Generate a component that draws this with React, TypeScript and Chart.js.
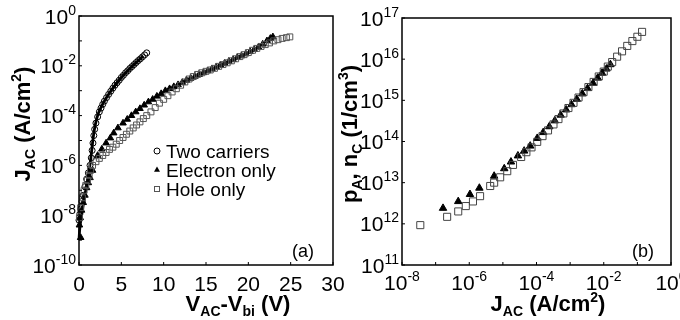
import React, { useEffect, useRef } from "react";
import { Chart, registerables } from "chart.js";
Chart.register(...registerables);

const FONT = '"Liberation Sans", Arial, Helvetica, sans-serif';

// ---------- Panel (a): J_AC vs V_AC - V_bi ----------
const twoCarrierV = [0.0, 0.1, 0.2, 0.35, 0.5, 0.7, 0.9, 1.1, 1.3, 1.45, 1.55, 1.65, 1.75, 1.85, 2.0, 2.2, 2.4, 2.6, 2.8, 3.0, 3.25, 3.5, 3.75, 4.0, 4.25, 4.5, 4.75, 5.0, 5.25, 5.5, 5.75, 6.0, 6.25, 6.5, 6.75, 7.0, 7.25, 7.5, 7.75, 8.0];
const twoCarrierJ = [6.3e-9, 1.12e-8, 1.78e-8, 3.55e-8, 6.3e-8, 1.41e-7, 2.82e-7, 5.0e-7, 1.0e-6, 2.0e-6, 4.0e-6, 7.9e-6, 1.58e-5, 2.82e-5, 5.0e-5, 8.9e-5, 1.41e-4, 2.0e-4, 2.82e-4, 3.8e-4, 5.25e-4, 7.1e-4, 9.5e-4, 1.26e-3, 1.66e-3, 2.09e-3, 2.63e-3, 3.39e-3, 4.17e-3, 5.25e-3, 6.3e-3, 7.8e-3, 9.3e-3, 1.12e-2, 1.35e-2, 1.62e-2, 1.91e-2, 2.29e-2, 2.75e-2, 3.31e-2];

const fitV = [0, 0.1, 0.3, 0.6, 0.9, 1.2, 1.4, 1.6, 1.8, 2.0, 2.3, 2.7, 3.2, 4.0, 5.0, 6.0, 7.0, 7.6];
const fitJ = [1.0e-9, 3.2e-9, 1.0e-8, 4.0e-8, 1.58e-7, 6.3e-7, 2.0e-6, 7.9e-6, 2.5e-5, 5.6e-5, 1.26e-4, 2.5e-4, 5.0e-4, 1.26e-3, 3.39e-3, 7.8e-3, 1.62e-2, 2.5e-2];

const electronV = [0.2, 0.05, 0.15, 0.3, 0.5, 0.7, 0.9, 1.1, 1.3, 1.6, 2.2, 2.7, 3.2, 3.7, 4.1, 4.6, 5.2, 5.7, 6.2, 6.7, 7.2, 7.7, 8.2, 8.7, 9.2, 9.7, 10.2, 10.7, 11.2, 11.7, 12.2, 12.7, 13.2, 13.7, 14.2, 14.7, 15.2, 15.7, 16.2, 16.7, 17.2, 17.7, 18.2, 18.7, 19.2, 19.7, 20.2, 20.7, 21.2, 21.7, 22.2, 22.6, 22.9];
const electronJ = [1.26e-9, 4.0e-9, 7.9e-9, 1.58e-8, 3.2e-8, 6.3e-8, 1.26e-7, 2.0e-7, 3.2e-7, 6.3e-7, 2.5e-6, 4.5e-6, 7.9e-6, 1.26e-5, 2.0e-5, 3.2e-5, 5.0e-5, 7.1e-5, 1.0e-4, 1.41e-4, 1.91e-4, 2.63e-4, 3.55e-4, 4.5e-4, 6.0e-4, 7.6e-4, 1.0e-3, 1.2e-3, 1.45e-3, 1.74e-3, 2.14e-3, 2.63e-3, 3.16e-3, 3.8e-3, 4.5e-3, 5.25e-3, 6.3e-3, 7.6e-3, 8.9e-3, 1.07e-2, 1.26e-2, 1.51e-2, 1.78e-2, 2.14e-2, 2.5e-2, 3.0e-2, 3.7e-2, 4.5e-2, 5.6e-2, 7.4e-2, 1.0e-1, 1.26e-1, 1.45e-1];

const holeV = [0.05, 0.2, 0.4, 0.6, 0.8, 1.0, 1.2, 1.35, 1.6, 2.0, 2.4, 2.8, 3.2, 3.6, 4.0, 4.4, 4.8, 5.2, 5.6, 6.0, 6.4, 6.8, 7.2, 7.6, 8.0, 8.5, 9.0, 9.5, 10.0, 10.5, 11.0, 11.5, 12.0, 12.5, 13.0, 13.5, 14.0, 14.5, 15.0, 15.5, 16.0, 16.5, 17.0, 17.5, 18.0, 18.5, 19.0, 19.5, 20.0, 20.5, 21.0, 21.5, 22.0, 22.5, 23.0, 23.5, 24.0, 24.5, 24.9];
const holeJ = [7.9e-9, 2.0e-8, 5.0e-8, 1.0e-7, 1.58e-7, 2.5e-7, 4.0e-7, 6.3e-7, 1.0e-6, 1.41e-6, 1.91e-6, 2.5e-6, 3.3e-6, 4.4e-6, 5.4e-6, 7.1e-6, 1.0e-5, 1.32e-5, 1.78e-5, 2.4e-5, 3.2e-5, 4.2e-5, 5.6e-5, 7.6e-5, 1.0e-4, 1.41e-4, 2.1e-4, 3.16e-4, 4.5e-4, 6.3e-4, 8.9e-4, 1.2e-3, 1.66e-3, 2.24e-3, 2.95e-3, 3.7e-3, 4.5e-3, 5.25e-3, 6.0e-3, 6.8e-3, 7.9e-3, 9.5e-3, 1.12e-2, 1.32e-2, 1.58e-2, 1.91e-2, 2.34e-2, 2.8e-2, 3.4e-2, 4.2e-2, 5.0e-2, 6.0e-2, 7.1e-2, 8.3e-2, 1.0e-1, 1.12e-1, 1.26e-1, 1.35e-1, 1.45e-1];

const xTicksA = [0, 5, 10, 15, 20, 25, 30];
const yTickExpA = [0, -2, -4, -6, -8, -10];
const yMinorExpA = [-1, -3, -5, -7, -9];
const legendLabels = ["Two carriers", "Electron only", "Hole only"];

// ---------- Panel (b): p_A, n_C vs J_AC ----------
const holeBJ = [3.5e-8, 2.2e-7, 4.7e-7, 7.9e-7, 1.29e-6, 2.1e-6, 4.2e-6, 5.5e-6, 8.3e-6, 1.35e-5, 2.0e-5, 3.5e-5, 5.0e-5, 7.1e-5, 1.05e-4, 1.51e-4, 2.2e-4, 3.2e-4, 4.5e-4, 6.3e-4, 8.9e-4, 1.26e-3, 1.78e-3, 2.5e-3, 3.5e-3, 5.0e-3, 7.1e-3, 1.0e-2, 1.32e-2, 1.78e-2, 2.5e-2, 3.5e-2, 5.0e-2, 7.1e-2, 1.0e-1, 1.38e-1];
const holeBN = [9.3e11, 1.48e12, 2.0e12, 2.7e12, 3.5e12, 4.7e12, 8.3e12, 1.0e13, 1.35e13, 1.9e13, 2.7e13, 4.2e13, 5.5e13, 7.2e13, 9.8e13, 1.35e14, 1.86e14, 2.6e14, 3.5e14, 4.8e14, 6.5e14, 8.7e14, 1.17e15, 1.58e15, 2.1e15, 2.8e15, 3.8e15, 5.0e15, 6.6e15, 8.5e15, 1.15e16, 1.55e16, 2.1e16, 2.75e16, 3.5e16, 4.6e16];

const electronBJ = [1.66e-7, 4.7e-7, 1.05e-6, 2.0e-6, 5.5e-6, 1.1e-5, 1.74e-5, 2.8e-5, 4.3e-5, 6.5e-5, 1.05e-4, 1.58e-4, 2.4e-4, 3.5e-4, 5.2e-4, 7.6e-4, 1.1e-3, 1.58e-3, 2.3e-3, 3.3e-3, 4.8e-3, 6.6e-3, 8.9e-3, 1.2e-2, 1.58e-2];
const electronBN = [2.4e12, 3.5e12, 5.2e12, 7.4e12, 1.45e13, 2.2e13, 3.2e13, 4.5e13, 5.9e13, 7.8e13, 1.2e14, 1.66e14, 2.3e14, 3.2e14, 4.4e14, 5.9e14, 7.9e14, 1.07e15, 1.45e15, 1.95e15, 2.6e15, 3.5e15, 4.6e15, 5.8e15, 7.4e15];

const xTickExpB = [-8, -6, -4, -2, 0];
const xMinorExpB = [-7, -5, -3, -1];
const yTickExpB = [11, 12, 13, 14, 15, 16, 17];

// ---------- text helpers ----------
type Seg = { t: string; s: number; dy?: number; b?: boolean };
const segFont = (g: Seg) => `${g.b ? "bold " : ""}${g.s}px ${FONT}`;
function drawRich(ctx: CanvasRenderingContext2D, x: number, y: number, segs: Seg[], align: "left" | "center" | "right") {
  let w = 0;
  for (const g of segs) { ctx.font = segFont(g); w += ctx.measureText(g.t).width; }
  let cx = align === "left" ? x : align === "right" ? x - w : x - w / 2;
  ctx.textAlign = "left";
  ctx.textBaseline = "alphabetic";
  for (const g of segs) {
    ctx.font = segFont(g);
    ctx.fillText(g.t, cx, y + (g.dy || 0));
    cx += ctx.measureText(g.t).width;
  }
}
const TK = 21, SUP = 14;
const pow10 = (e: number): Seg[] => [{ t: "10", s: TK }, { t: String(e), s: SUP, dy: -9 }];
const T = 22, S = 14;
const jacTitle: Seg[] = [
  { t: "J", s: T, b: true }, { t: "AC", s: S, b: true, dy: 5 },
  { t: " (A/cm", s: T, b: true }, { t: "2", s: S, b: true, dy: -9 }, { t: ")", s: T, b: true },
];

function frameAndTicks(chart: any, xTicks: number[], yTicks: number[]) {
  const { ctx, chartArea: ca, scales } = chart;
  ctx.strokeStyle = "#000";
  ctx.lineWidth = 1;
  ctx.beginPath();
  for (const v of xTicks) { const px = scales.x.getPixelForValue(v); ctx.moveTo(px, ca.bottom); ctx.lineTo(px, ca.bottom - 3); }
  for (const v of yTicks) { const py = scales.y.getPixelForValue(v); ctx.moveTo(ca.left, py); ctx.lineTo(ca.left + 3, py); }
  ctx.stroke();
  ctx.lineWidth = 1.5;
  ctx.strokeRect(ca.left, ca.top, ca.right - ca.left, ca.bottom - ca.top);
}

const decorA = {
  id: "decorA",
  afterDraw(chart: any) {
    const { ctx, chartArea: ca, scales } = chart;
    ctx.save();
    frameAndTicks(chart, xTicksA, [...yTickExpA, ...yMinorExpA].map((e) => Math.pow(10, e)));
    ctx.fillStyle = "#000";
    for (const v of xTicksA) drawRich(ctx, scales.x.getPixelForValue(v), 291, [{ t: String(v), s: TK }], "center");
    for (const e of yTickExpA) drawRich(ctx, ca.left - 3, scales.y.getPixelForValue(Math.pow(10, e)) + 7.5, pow10(e), "right");
    drawRich(ctx, 238, 311, [
      { t: "V", s: T, b: true }, { t: "AC", s: S, b: true, dy: 5 },
      { t: "-V", s: T, b: true }, { t: "bi", s: S, b: true, dy: 5 }, { t: " (V)", s: T, b: true },
    ], "center");
    ctx.save();
    ctx.translate(30, 124);
    ctx.rotate(-Math.PI / 2);
    drawRich(ctx, 0, 0, jacTitle, "center");
    ctx.restore();
    drawRich(ctx, 314, 257, [{ t: "(a)", s: 18 }], "right");
    // legend
    const lx = 157, rows = [151, 170, 189];
    ctx.lineWidth = 1;
    ctx.strokeStyle = "#000";
    ctx.beginPath(); ctx.arc(lx, rows[0], 3, 0, Math.PI * 2); ctx.stroke();
    ctx.beginPath();
    ctx.moveTo(lx, rows[1] - 3.5); ctx.lineTo(lx + 3, rows[1] + 1.8); ctx.lineTo(lx - 3, rows[1] + 1.8); ctx.closePath();
    ctx.fill();
    ctx.strokeStyle = "#555";
    ctx.strokeRect(lx - 2.5, rows[2] - 2.5, 5, 5);
    legendLabels.forEach((l, i) => drawRich(ctx, 166, rows[i] + 7, [{ t: l, s: 19 }], "left"));
    ctx.restore();
  },
};

const decorB = {
  id: "decorB",
  afterDraw(chart: any) {
    const { ctx, chartArea: ca, scales } = chart;
    ctx.save();
    frameAndTicks(chart, [...xTickExpB, ...xMinorExpB].map((e) => Math.pow(10, e)), yTickExpB.map((e) => Math.pow(10, e)));
    ctx.fillStyle = "#000";
    for (const e of xTickExpB) drawRich(ctx, scales.x.getPixelForValue(Math.pow(10, e)), 290, pow10(e), "center");
    for (const e of yTickExpB) drawRich(ctx, ca.left - 3, scales.y.getPixelForValue(Math.pow(10, e)) + 7.5, pow10(e), "right");
    drawRich(ctx, 548, 311, jacTitle, "center");
    ctx.save();
    ctx.translate(357, 134);
    ctx.rotate(-Math.PI / 2);
    drawRich(ctx, 0, 0, [
      { t: "p", s: T, b: true }, { t: "A", s: S, b: true, dy: 5 },
      { t: ", n", s: T, b: true }, { t: "C", s: S, b: true, dy: 5 },
      { t: " (1/cm", s: T, b: true }, { t: "3", s: S, b: true, dy: -9 }, { t: ")", s: T, b: true },
    ], "center");
    ctx.restore();
    drawRich(ctx, 654, 257, [{ t: "(b)", s: 18 }], "right");
    ctx.restore();
  },
};

const zip = (xs: number[], ys: number[]) => xs.map((x, i) => ({ x, y: ys[i] }));

export default function App() {
  const refA = useRef<HTMLCanvasElement>(null);
  const refB = useRef<HTMLCanvasElement>(null);

  useEffect(() => {
    const common: any = {
      responsive: false,
      animation: false,
      devicePixelRatio: 1,
      plugins: { legend: { display: false }, tooltip: { enabled: false } },
      events: [],
    };
    const chartA = new Chart(refA.current!, {
      type: "scatter",
      data: {
        datasets: [
          { label: "Hole only", data: zip(holeV, holeJ), pointStyle: "rect", pointRadius: 4.2, borderColor: "#555", backgroundColor: "rgba(0,0,0,0)", borderWidth: 1, clip: false } as any,
          { label: "Electron only", data: zip(electronV, electronJ), pointStyle: "triangle", pointRadius: 3.8, borderColor: "#000", backgroundColor: "#000", borderWidth: 1, clip: false } as any,
          { label: "Two carriers", data: zip(twoCarrierV, twoCarrierJ), pointStyle: "circle", pointRadius: 3, borderColor: "#000", backgroundColor: "rgba(0,0,0,0)", borderWidth: 1, clip: false } as any,
          { label: "fit", data: zip(fitV, fitJ), showLine: true, pointRadius: 0, borderColor: "#000", borderWidth: 2.8, tension: 0.3, clip: false } as any,
        ],
      },
      options: {
        ...common,
        layout: { padding: { left: 79, right: 347, top: 16, bottom: 55 } },
        scales: {
          x: { type: "linear", min: 0, max: 30, display: false },
          y: { type: "logarithmic", min: 1e-10, max: 1, display: false },
        },
      },
      plugins: [decorA],
    });
    const chartB = new Chart(refB.current!, {
      type: "scatter",
      data: {
        datasets: [
          { label: "Hole only", data: zip(holeBJ, holeBN), pointStyle: "rect", pointRadius: 5, borderColor: "#444", backgroundColor: "rgba(0,0,0,0)", borderWidth: 1, clip: false } as any,
          { label: "Electron only", data: zip(electronBJ, electronBN), pointStyle: "triangle", pointRadius: 4.3, borderColor: "#000", backgroundColor: "#000", borderWidth: 1, clip: false } as any,
        ],
      },
      options: {
        ...common,
        layout: { padding: { left: 402, right: 9, top: 18, bottom: 55 } },
        scales: {
          x: { type: "logarithmic", min: 1e-8, max: 1, display: false },
          y: { type: "logarithmic", min: 1e11, max: 1e17, display: false },
        },
      },
      plugins: [decorB],
    });
    return () => { chartA.destroy(); chartB.destroy(); };
  }, []);

  const cs: React.CSSProperties = { position: "absolute", left: 0, top: 0, width: 680, height: 320 };
  return (
    <div style={{ position: "fixed", left: 0, top: 0, width: 680, height: 320, background: "#fff" }}>
      <canvas ref={refA} width={680} height={320} style={cs} />
      <canvas ref={refB} width={680} height={320} style={cs} />
    </div>
  );
}
